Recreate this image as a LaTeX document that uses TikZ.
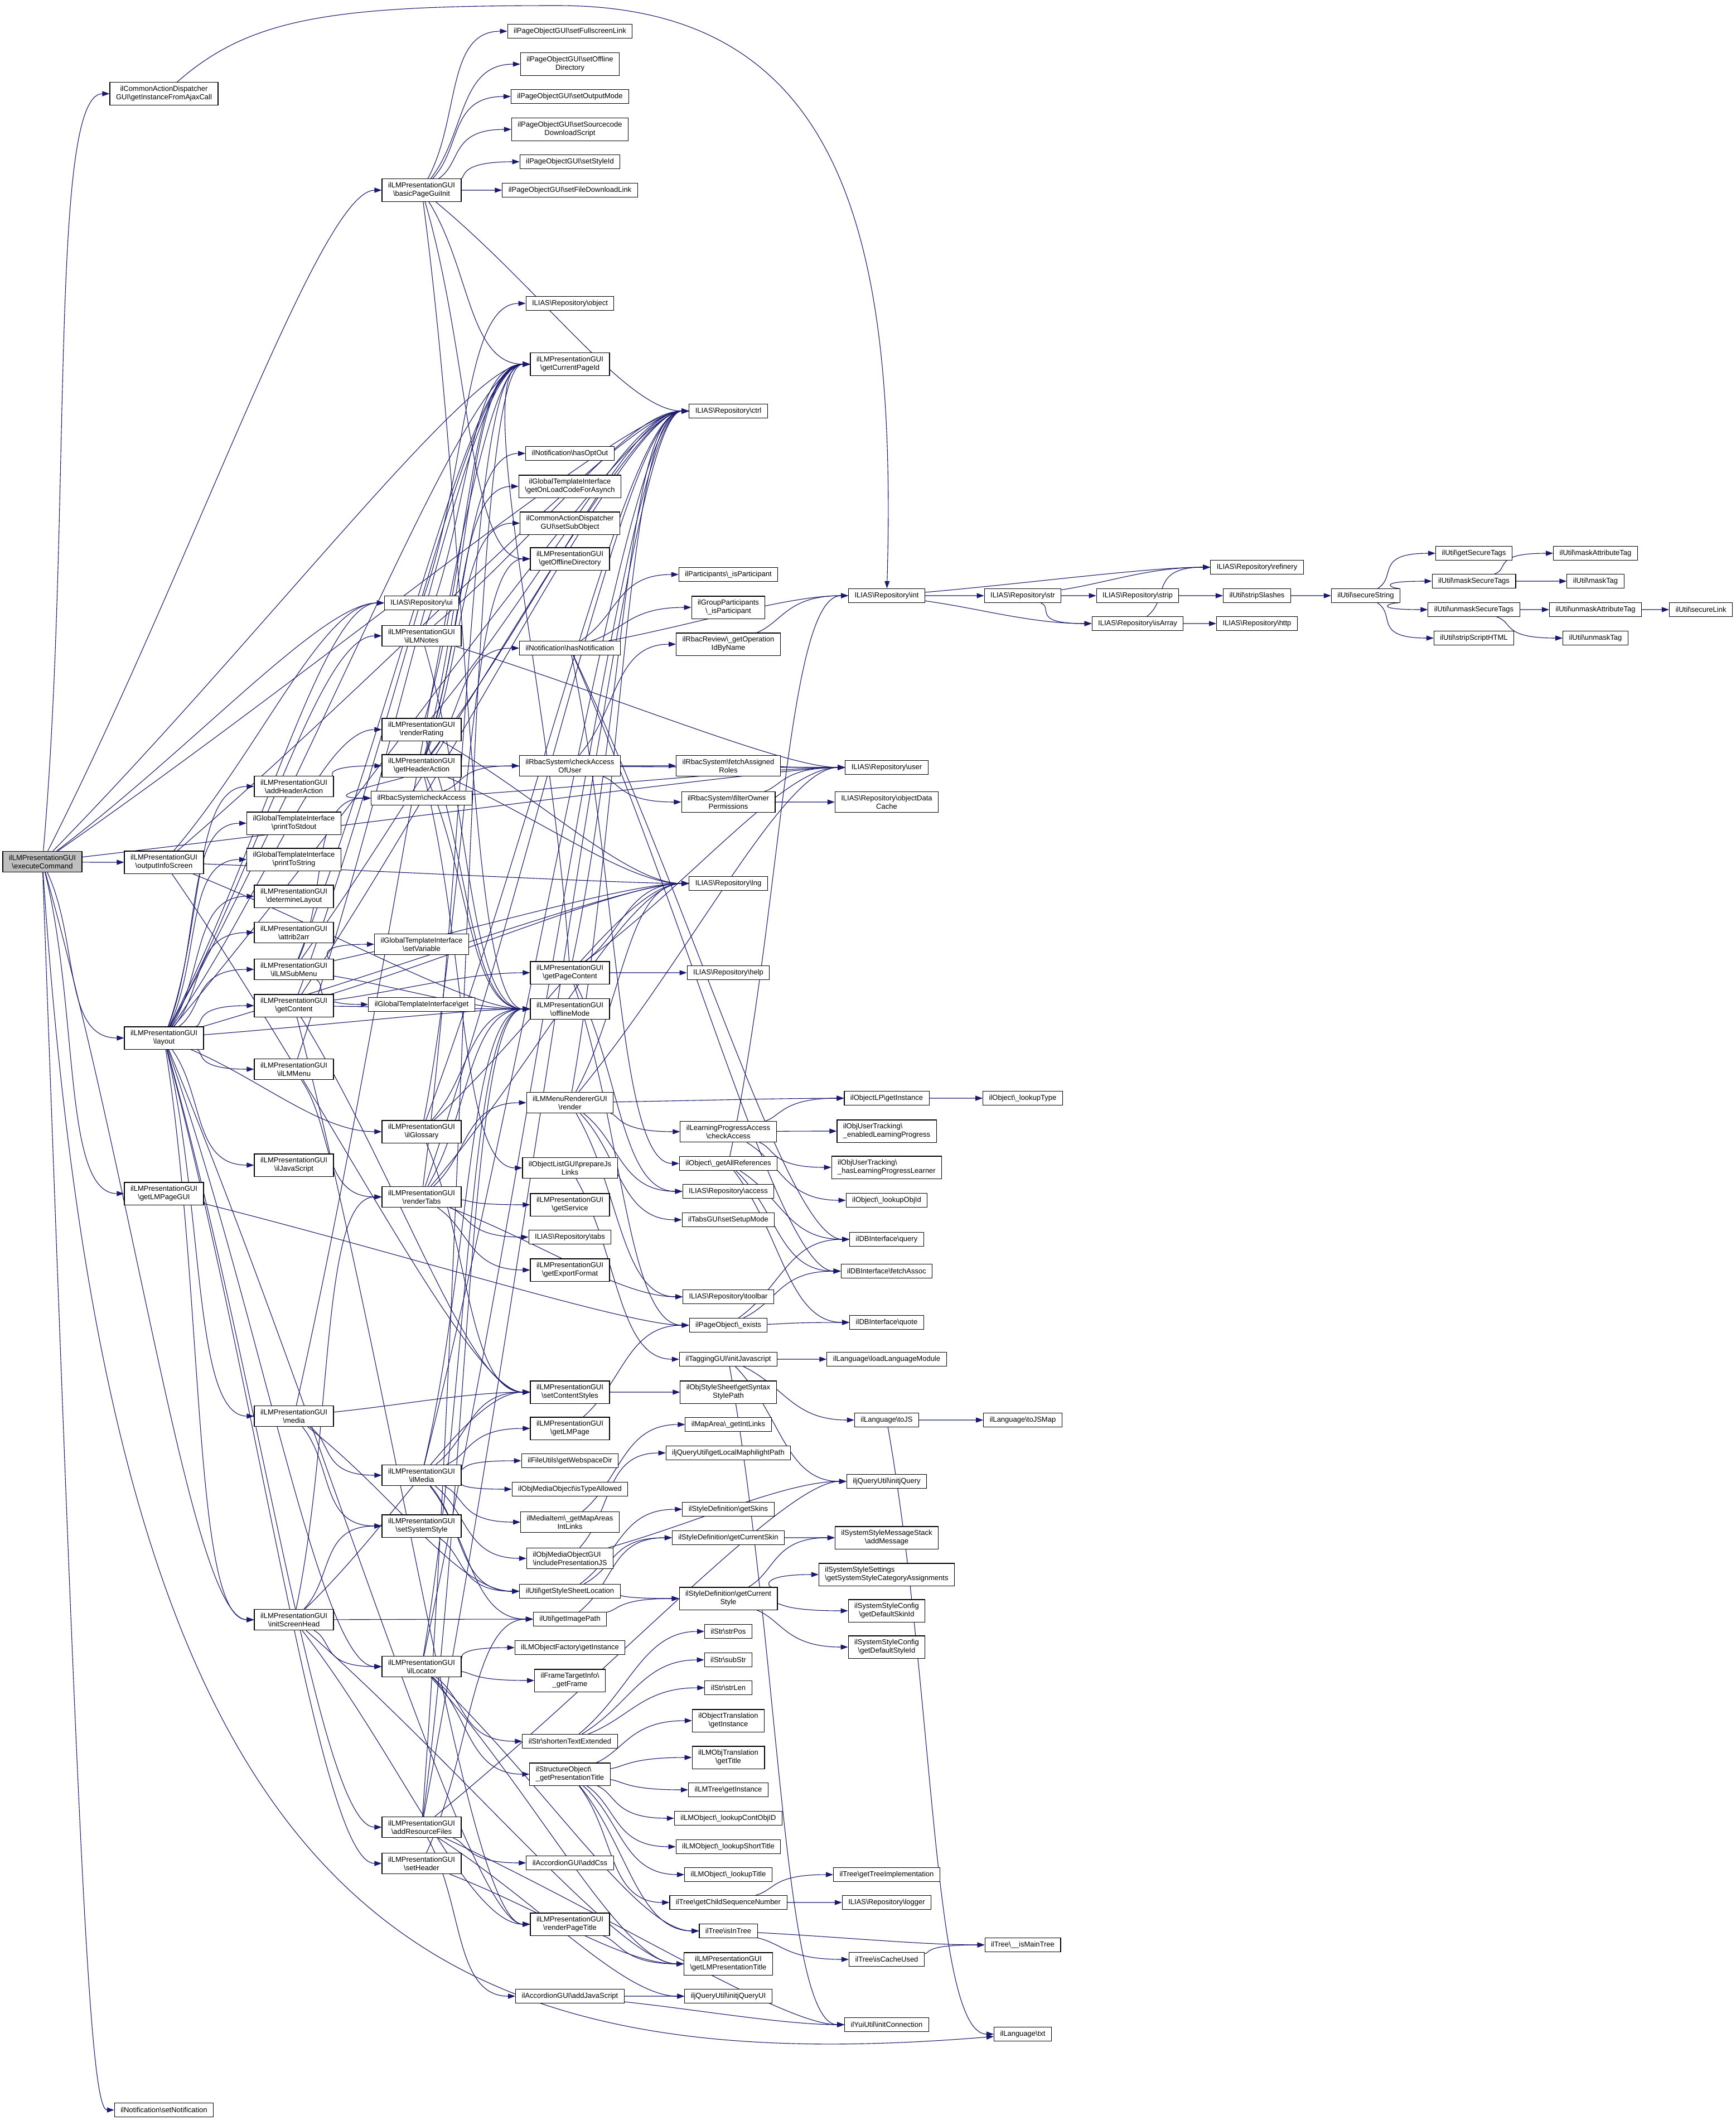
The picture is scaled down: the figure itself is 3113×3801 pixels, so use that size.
\documentclass[tikz,border=0pt]{standalone}
\usepackage{fontspec}
\setmainfont{Liberation Sans}
\usetikzlibrary{arrows.meta,calc}
\definecolor{edgecol}{HTML}{191970}
\newcommand{\bsl}{\textbackslash}
\newcommand{\calls}[2]{\foreach \t in {#2}{\draw[edge] (#1) .. controls ($(#1)!0.45!(\t.west)$) and ($(\t.west)+(-110,0)$) .. (\t);}}
\pgfdeclarelayer{paper}
\pgfdeclarelayer{bg}
\pgfsetlayers{paper,bg,main}
\begin{document}
\begin{tikzpicture}[x=0.2bp,y=-0.2bp,font=\fontsize{2.6bp}{3bp}\selectfont,
  nd/.style={draw=black,line width=0.22bp,fill=white,align=center,inner xsep=2.2bp,inner ysep=1.3bp,minimum height=5bp,text=black},
  ndl/.style={nd,align=left},
  edge/.style={draw=edgecol,line width=0.22bp,-{Triangle[length=2.6bp,width=1.8bp]}}]
\begin{pgfonlayer}{paper}
\fill[white] (0,0) rectangle (3113,3801);
\end{pgfonlayer}
\useasboundingbox (0,0) rectangle (3113,3801);
% col0
\node[nd,fill=gray!50] (exe) at (76,1545) {ilLMPresentationGUI\\\bsl executeCommand};
% col1
\node[nd] (ajax) at (294,168) {ilCommonActionDispatcher\\GUI\bsl getInstanceFromAjaxCall};
\node[nd] (info) at (294,1546) {ilLMPresentationGUI\\\bsl outputInfoScreen};
\node[nd] (layout) at (294,1861) {ilLMPresentationGUI\\\bsl layout};
\node[nd] (lmpagegui) at (294,2140) {ilLMPresentationGUI\\\bsl getLMPageGUI};
\node[nd] (setnotif) at (294,3783) {ilNotification\bsl setNotification};
% col2
\node[nd] (addhead) at (527,1410) {ilLMPresentationGUI\\\bsl addHeaderAction};
\node[nd] (stdout) at (527,1476) {ilGlobalTemplateInterface\\\bsl printToStdout};
\node[nd] (tostring) at (527,1541) {ilGlobalTemplateInterface\\\bsl printToString};
\node[nd] (detlayout) at (527,1607) {ilLMPresentationGUI\\\bsl determineLayout};
\node[nd] (attrib) at (527,1672) {ilLMPresentationGUI\\\bsl attrib2arr};
\node[nd] (submenu) at (527,1738) {ilLMPresentationGUI\\\bsl ilLMSubMenu};
\node[nd] (getcontent) at (527,1803) {ilLMPresentationGUI\\\bsl getContent};
\node[nd] (lmmenu) at (527,1917) {ilLMPresentationGUI\\\bsl ilLMMenu};
\node[nd] (js) at (527,2089) {ilLMPresentationGUI\\\bsl ilJavaScript};
\node[nd] (media) at (527,2539) {ilLMPresentationGUI\\\bsl media};
\node[nd] (initsh) at (527,2904) {ilLMPresentationGUI\\\bsl initScreenHead};
% col3
\node[nd] (bpgi) at (756,341) {ilLMPresentationGUI\\\bsl basicPageGuiInit};
\node[nd] (ui) at (756,1081) {ILIAS\bsl Repository\bsl ui};
\node[nd] (notes) at (756,1140) {ilLMPresentationGUI\\\bsl ilLMNotes};
\node[nd] (rating) at (756,1308) {ilLMPresentationGUI\\\bsl renderRating};
\node[nd] (headeract) at (756,1373) {ilLMPresentationGUI\\\bsl getHeaderAction};
\node[nd] (rbacca) at (756,1431) {ilRbacSystem\bsl checkAccess};
\node[nd] (setvar) at (756,1693) {ilGlobalTemplateInterface\\\bsl setVariable};
\node[nd] (tplget) at (756,1801) {ilGlobalTemplateInterface\bsl get};
\node[nd] (glossary) at (756,2029) {ilLMPresentationGUI\\\bsl ilGlossary};
\node[nd] (tabs) at (756,2146) {ilLMPresentationGUI\\\bsl renderTabs};
\node[nd] (ilmedia) at (756,2645) {ilLMPresentationGUI\\\bsl ilMedia};
\node[nd] (sysstyle) at (756,2736) {ilLMPresentationGUI\\\bsl setSystemStyle};
\node[nd] (locator) at (756,2988) {ilLMPresentationGUI\\\bsl ilLocator};
\node[nd] (resfiles) at (756,3276) {ilLMPresentationGUI\\\bsl addResourceFiles};
\node[nd] (setheader) at (756,3341) {ilLMPresentationGUI\\\bsl setHeader};
% col4
\node[nd] (fullscreen) at (1022,56) {ilPageObjectGUI\bsl setFullscreenLink};
\node[nd] (offdir) at (1022,115) {ilPageObjectGUI\bsl setOffline\\Directory};
\node[nd] (outmode) at (1022,173) {ilPageObjectGUI\bsl setOutputMode};
\node[nd] (srcdl) at (1022,232) {ilPageObjectGUI\bsl setSourcecode\\DownloadScript};
\node[nd] (styleid) at (1022,290) {ilPageObjectGUI\bsl setStyleId};
\node[nd] (filedl) at (1022,341) {ilPageObjectGUI\bsl setFileDownloadLink};
\node[nd] (object) at (1022,544) {ILIAS\bsl Repository\bsl object};
\node[nd] (curpage) at (1022,653) {ilLMPresentationGUI\\\bsl getCurrentPageId};
\node[nd] (optout) at (1022,813) {ilNotification\bsl hasOptOut};
\node[nd] (onload) at (1022,872) {ilGlobalTemplateInterface\\\bsl getOnLoadCodeForAsynch};
\node[nd] (subobj) at (1022,938) {ilCommonActionDispatcher\\GUI\bsl setSubObject};
\node[nd] (getoffdir) at (1022,1002) {ilLMPresentationGUI\\\bsl getOfflineDirectory};
\node[nd] (hasnotif) at (1022,1162) {ilNotification\bsl hasNotification};
\node[nd] (rbaccau) at (1022,1373) {ilRbacSystem\bsl checkAccess\\OfUser};
\node[nd] (pagecontent) at (1022,1744) {ilLMPresentationGUI\\\bsl getPageContent};
\node[nd] (offmode) at (1022,1809) {ilLMPresentationGUI\\\bsl offlineMode};
\node[nd] (menurender) at (1022,1977) {ilLMMenuRendererGUI\\\bsl render};
\node[nd] (preparejs) at (1022,2094) {ilObjectListGUI\bsl prepareJs\\Links};
\node[nd] (getservice) at (1022,2160) {ilLMPresentationGUI\\\bsl getService};
\node[nd] (reptabs) at (1022,2218) {ILIAS\bsl Repository\bsl tabs};
\node[nd] (exportfmt) at (1022,2277) {ilLMPresentationGUI\\\bsl getExportFormat};
\node[nd] (contentstyles) at (1022,2496) {ilLMPresentationGUI\\\bsl setContentStyles};
\node[nd] (getlmpage) at (1022,2561) {ilLMPresentationGUI\\\bsl getLMPage};
\node[nd] (webspace) at (1022,2619) {ilFileUtils\bsl getWebspaceDir};
\node[nd] (typeallowed) at (1022,2670) {ilObjMediaObject\bsl isTypeAllowed};
\node[nd] (mapareas) at (1022,2729) {ilMediaItem\bsl \_getMapAreas\\IntLinks};
\node[ndl] (presjs) at (1022,2794) {ilObjMediaObjectGUI\\\bsl includePresentationJS};
\node[nd] (sslocation) at (1022,2853) {ilUtil\bsl getStyleSheetLocation};
\node[nd] (imagepath) at (1022,2903) {ilUtil\bsl getImagePath};
\node[nd] (lmobjfactory) at (1022,2954) {ilLMObjectFactory\bsl getInstance};
\node[nd] (frametarget) at (1022,3013) {ilFrameTargetInfo\bsl\\\_getFrame};
\node[nd] (shorten) at (1022,3122) {ilStr\bsl shortenTextExtended};
\node[ndl] (prestitle) at (1022,3181) {ilStructureObject\bsl\\\_getPresentationTitle};
\node[nd] (addcss) at (1022,3340) {ilAccordionGUI\bsl addCss};
\node[nd] (pagetitle) at (1022,3450) {ilLMPresentationGUI\\\bsl renderPageTitle};
\node[nd] (addjs) at (1022,3579) {ilAccordionGUI\bsl addJavaScript};
% col5
\node[nd] (ctrl) at (1306,737) {ILIAS\bsl Repository\bsl ctrl};
\node[nd] (isparticipant) at (1306,1030) {ilParticipants\bsl \_isParticipant};
\node[nd] (grpparticipant) at (1306,1089) {ilGroupParticipants\\\bsl \_isParticipant};
\node[nd] (getopid) at (1306,1155) {ilRbacReview\bsl \_getOperation\\IdByName};
\node[nd] (fetchroles) at (1306,1373) {ilRbacSystem\bsl fetchAssigned\\Roles};
\node[nd] (filterowner) at (1306,1438) {ilRbacSystem\bsl filterOwner\\Permissions};
\node[nd] (lng) at (1306,1584) {ILIAS\bsl Repository\bsl lng};
\node[nd] (help) at (1306,1744) {ILIAS\bsl Repository\bsl help};
\node[nd] (lpaccess) at (1306,2029) {ilLearningProgressAccess\\\bsl checkAccess};
\node[nd] (allrefs) at (1306,2086) {ilObject\bsl \_getAllReferences};
\node[nd] (access) at (1306,2136) {ILIAS\bsl Repository\bsl access};
\node[nd] (setupmode) at (1306,2187) {ilTabsGUI\bsl setSetupMode};
\node[nd] (toolbar) at (1306,2325) {ILIAS\bsl Repository\bsl toolbar};
\node[nd] (exists) at (1306,2376) {ilPageObject\bsl \_exists};
\node[nd] (tagging) at (1306,2437) {ilTaggingGUI\bsl initJavascript};
\node[nd] (syntaxpath) at (1306,2496) {ilObjStyleSheet\bsl getSyntax\\StylePath};
\node[nd] (intlinks) at (1306,2554) {ilMapArea\bsl \_getIntLinks};
\node[nd] (maphilight) at (1306,2605) {iljQueryUtil\bsl getLocalMaphilightPath};
\node[nd] (getskins) at (1306,2706) {ilStyleDefinition\bsl getSkins};
\node[nd] (curskin) at (1306,2757) {ilStyleDefinition\bsl getCurrentSkin};
\node[nd] (curstyle) at (1306,2866) {ilStyleDefinition\bsl getCurrent\\Style};
\node[nd] (strpos) at (1306,2925) {ilStr\bsl strPos};
\node[nd] (substr) at (1306,2976) {ilStr\bsl subStr};
\node[nd] (strlen) at (1306,3026) {ilStr\bsl strLen};
\node[nd] (objtrans) at (1306,3085) {ilObjectTranslation\\\bsl getInstance};
\node[nd] (lmobjtrans) at (1306,3151) {ilLMObjTranslation\\\bsl getTitle};
\node[nd] (lmtree) at (1306,3209) {ilLMTree\bsl getInstance};
\node[nd] (contobjid) at (1306,3260) {ilLMObject\bsl \_lookupContObjID};
\node[nd] (shorttitle) at (1306,3311) {ilLMObject\bsl \_lookupShortTitle};
\node[nd] (lookuptitle) at (1306,3361) {ilLMObject\bsl \_lookupTitle};
\node[nd] (childseq) at (1306,3411) {ilTree\bsl getChildSequenceNumber};
\node[nd] (isintree) at (1306,3462) {ilTree\bsl isInTree};
\node[nd] (lmprestitle) at (1306,3521) {ilLMPresentationGUI\\\bsl getLMPresentationTitle};
\node[nd] (jqueryui) at (1306,3579) {iljQueryUtil\bsl initjQueryUI};
% col6
\node[nd] (int) at (1590,1068) {ILIAS\bsl Repository\bsl int};
\node[nd] (user) at (1590,1376) {ILIAS\bsl Repository\bsl user};
\node[nd] (objcache) at (1590,1438) {ILIAS\bsl Repository\bsl objectData\\Cache};
\node[nd] (objlp) at (1590,1969) {ilObjectLP\bsl getInstance};
\node[ndl] (enabledlp) at (1590,2028) {ilObjUserTracking\bsl\\\_enabledLearningProgress};
\node[ndl] (haslp) at (1590,2093) {ilObjUserTracking\bsl\\\_hasLearningProgressLearner};
\node[nd] (lookupobjid) at (1590,2152) {ilObject\bsl \_lookupObjId};
\node[nd] (dbquery) at (1590,2222) {ilDBInterface\bsl query};
\node[nd] (dbfetch) at (1590,2279) {ilDBInterface\bsl fetchAssoc};
\node[nd] (dbquote) at (1590,2371) {ilDBInterface\bsl quote};
\node[nd] (loadlang) at (1590,2437) {ilLanguage\bsl loadLanguageModule};
\node[nd] (tojs) at (1590,2546) {ilLanguage\bsl toJS};
\node[nd] (jquery) at (1590,2656) {iljQueryUtil\bsl initjQuery};
\node[nd] (addmsg) at (1590,2757) {ilSystemStyleMessageStack\\\bsl addMessage};
\node[ndl] (catassign) at (1590,2823) {ilSystemStyleSettings\\\bsl getSystemStyleCategoryAssignments};
\node[nd] (defskin) at (1590,2888) {ilSystemStyleConfig\\\bsl getDefaultSkinId};
\node[nd] (defstyle) at (1590,2953) {ilSystemStyleConfig\\\bsl getDefaultStyleId};
\node[nd] (treeimpl) at (1590,3361) {ilTree\bsl getTreeImplementation};
\node[nd] (logger) at (1590,3411) {ILIAS\bsl Repository\bsl logger};
\node[nd] (cacheused) at (1590,3513) {ilTree\bsl isCacheUsed};
\node[nd] (yui) at (1590,3630) {ilYuiUtil\bsl initConnection};
% col7
\node[nd] (str) at (1834,1068) {ILIAS\bsl Repository\bsl str};
\node[nd] (lookuptype) at (1834,1969) {ilObject\bsl \_lookupType};
\node[nd] (tojsmap) at (1834,2546) {ilLanguage\bsl toJSMap};
\node[nd] (ismaintree) at (1834,3487) {ilTree\bsl \_\_isMainTree};
\node[nd] (txt) at (1834,3647) {ilLanguage\bsl txt};
% right part
\node[nd] (strip) at (2040,1068) {ILIAS\bsl Repository\bsl strip};
\node[nd] (isarray) at (2040,1118) {ILIAS\bsl Repository\bsl isArray};
\node[nd] (refinery) at (2254,1017) {ILIAS\bsl Repository\bsl refinery};
\node[nd] (stripslashes) at (2254,1068) {ilUtil\bsl stripSlashes};
\node[nd] (http) at (2254,1118) {ILIAS\bsl Repository\bsl http};
\node[nd] (securestring) at (2449,1068) {ilUtil\bsl secureString};
\node[nd] (getsecuretags) at (2643,992) {ilUtil\bsl getSecureTags};
\node[nd] (masksecure) at (2643,1042) {ilUtil\bsl maskSecureTags};
\node[nd] (unmasksecure) at (2643,1093) {ilUtil\bsl unmaskSecureTags};
\node[nd] (stripscript) at (2643,1144) {ilUtil\bsl stripScriptHTML};
\node[nd] (maskattr) at (2861,992) {ilUtil\bsl maskAttributeTag};
\node[nd] (masktag) at (2861,1042) {ilUtil\bsl maskTag};
\node[nd] (unmaskattr) at (2861,1093) {ilUtil\bsl unmaskAttributeTag};
\node[nd] (unmasktag) at (2861,1144) {ilUtil\bsl unmaskTag};
\node[nd] (securelink) at (3050,1093) {ilUtil\bsl secureLink};

\begin{pgfonlayer}{bg}
% long routed edges
\draw[edge] (ajax) .. controls (450,30) and (600,10) .. (1000,10) .. controls (1500,10) and (1610,400) .. (int);
\draw[edge] (exe) .. controls (200,3400) and (700,3740) .. (txt);
\draw[edge] (exe) .. controls (140,3300) and (160,3783) .. (setnotif);
\calls{exe}{ajax,info,layout,lmpagegui,bpgi,ctrl,curpage,ui,user,initsh}
\calls{info}{ui,ctrl,lng,offmode,contentstyles}
\calls{layout}{addhead,stdout,tostring,detlayout,attrib,submenu,getcontent,lmmenu,js,media,initsh,notes,rating,glossary,locator,resfiles,setheader,pagetitle,ui,ctrl,curpage,offmode,lng}
\calls{lmpagegui}{exists}
\calls{addhead}{headeract}
\calls{submenu}{rbacca,setvar,tplget,curpage,lng,ctrl,offmode}
\calls{getcontent}{pagecontent,contentstyles,curpage,offmode,ctrl,lng,pagetitle}
\calls{lmmenu}{tabs,curpage}
\calls{media}{ilmedia,sysstyle,contentstyles,sslocation,curpage}
\calls{initsh}{tabs,imagepath,locator,lmprestitle,pagetitle,contentstyles,sysstyle}
\calls{bpgi}{fullscreen,offdir,outmode,srcdl,styleid,filedl,ctrl,curpage,getoffdir,offmode}
\calls{ui}{object}
\calls{notes}{offmode,curpage,ctrl,user}
\calls{rating}{offmode,curpage,ctrl,lng}
\calls{headeract}{hasnotif,optout,onload,subobj,curpage,ctrl,lng,offmode,user,preparejs,rbacca}
\calls{rbacca}{rbaccau,user}
\calls{glossary}{contentstyles,ctrl,lng,offmode,getoffdir}
\calls{tabs}{menurender,getservice,reptabs,exportfmt,toolbar,ctrl,lng,offmode,curpage}
\calls{ilmedia}{getlmpage,webspace,typeallowed,mapareas,presjs,contentstyles,sslocation,imagepath,offmode,ctrl}
\calls{sysstyle}{sslocation}
\calls{locator}{lmobjfactory,frametarget,shorten,prestitle,isintree,lmprestitle,offmode,ctrl}
\calls{resfiles}{addcss,addjs,jquery,jqueryui,yui,offmode,ctrl,curpage}
\calls{setheader}{lmprestitle,imagepath}
\calls{hasnotif}{isparticipant,grpparticipant,allrefs,int,dbquery,dbfetch}
\calls{rbaccau}{fetchroles,filterowner,getopid}
\calls{pagecontent}{lng,user,help,ctrl,exists,access,curpage}
\calls{menurender}{objlp,lpaccess,access,setupmode,toolbar,ctrl,lng,user}
\calls{preparejs}{tagging}
\calls{contentstyles}{syntaxpath}
\calls{getlmpage}{exists}
\calls{mapareas}{intlinks}
\calls{presjs}{maphilight,jquery}
\calls{sslocation}{curskin,curstyle,getskins}
\calls{imagepath}{curskin,curstyle}
\calls{shorten}{strpos,substr,strlen}
\calls{prestitle}{objtrans,lmobjtrans,lmtree,contobjid,shorttitle,lookuptitle,childseq,isintree}
\calls{pagetitle}{lmprestitle}
\calls{addjs}{jqueryui,yui}
\calls{fetchroles}{user}
\calls{filterowner}{user,objcache}
\calls{getopid}{int}
\calls{lpaccess}{objlp,enabledlp,haslp,lookupobjid}
\calls{allrefs}{dbquery,dbfetch,dbquote,int}
\calls{exists}{dbquery,dbfetch,dbquote}
\calls{tagging}{loadlang,tojs,jquery,yui}
\calls{curskin}{addmsg}
\calls{curstyle}{addmsg,catassign,defskin,defstyle}
\calls{childseq}{treeimpl,logger}
\calls{isintree}{ismaintree,cacheused}
\calls{int}{str,refinery,isarray}
\calls{objlp}{lookuptype}
\calls{tojs}{tojsmap,txt}
\calls{cacheused}{ismaintree}
\calls{str}{strip,isarray,refinery}
\calls{strip}{stripslashes}
\calls{isarray}{http,refinery}
\calls{stripslashes}{securestring}
\calls{securestring}{getsecuretags,masksecure,unmasksecure,stripscript}
\calls{masksecure}{maskattr,masktag}
\calls{unmasksecure}{unmaskattr,unmasktag}
\calls{unmaskattr}{securelink}
\end{pgfonlayer}
\end{tikzpicture}
\end{document}
